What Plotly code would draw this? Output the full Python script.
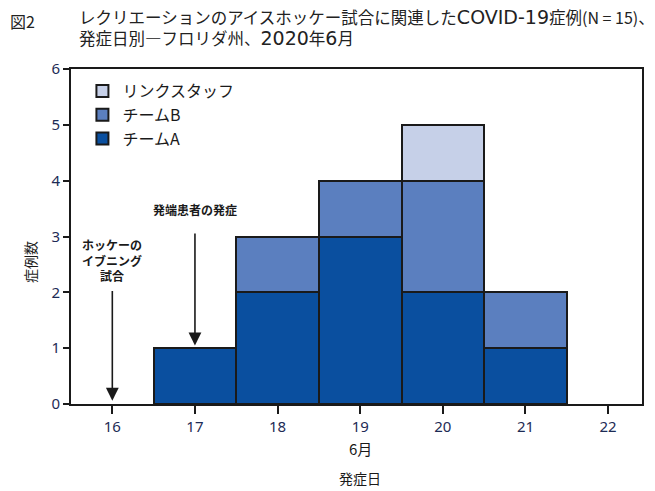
import plotly.graph_objects as go

days = [16, 17, 18, 19, 20, 21, 22]
team_a = [None, 1, 2, 3, 2, 1, None]
team_b = [None, None, 1, 1, 2, 1, None]
rink_staff = [None, None, None, None, 1, None, None]

JP = "Noto Sans CJK JP"
NAVY = "#1d2b55"
INK = "#1a1a1a"

# plot area in reference pixels
PL, PR, PT, PB = 71, 642, 69, 404
OFF = 8  # page body margin


def px(x):
    return (x - PL) / (PR - PL)


def py(y):
    return (PB - y) / (PB - PT)


def span(s, size, family="DejaVu Sans"):
    return '<span style="font-family:%s;font-size:%dpx">%s</span>' % (family, size, s)


fig = go.Figure()
fig.add_trace(go.Bar(x=days, y=team_a, name="チームA", width=1,
                     marker=dict(color="#0a4f9f", line=dict(color=INK, width=2))))
fig.add_trace(go.Bar(x=days, y=team_b, name="チームB", width=1,
                     marker=dict(color="#5b7fbf", line=dict(color=INK, width=2))))
fig.add_trace(go.Bar(x=days, y=rink_staff, name="リンクスタッフ", width=1,
                     marker=dict(color="#c6d0e8", line=dict(color=INK, width=2))))

# arrows
fig.add_annotation(x=16, y=0.06, ax=16, ay=2.05, xref="x", yref="y", axref="x", ayref="y",
                   showarrow=True, arrowhead=2, arrowsize=1.6, arrowwidth=1.6, arrowcolor=INK, text="")
fig.add_annotation(x=17, y=1.05, ax=17, ay=3.08, xref="x", yref="y", axref="x", ayref="y",
                   showarrow=True, arrowhead=2, arrowsize=1.6, arrowwidth=1.6, arrowcolor=INK, text="")
fig.add_annotation(x=16, y=2.12, text="<b>ホッケーの<br>イブニング<br>試合</b>", showarrow=False,
                   yanchor="bottom", font=dict(family=JP, size=12, color=INK))
fig.add_annotation(x=17, y=3.3, text="<b>発端患者の発症</b>", showarrow=False,
                   yanchor="bottom", font=dict(family=JP, size=12, color=INK))

# titles
title_txt = ("レクリエーションのアイスホッケー試合に関連した" + span("COVID-19", 19) + "症例"
             + span("(N = 15)", 16, JP) + "、"
             + "<br>発症日別―フロリダ州、" + span("2020", 19) + "年" + span("6", 19) + "月")
fig.add_annotation(x=px(8), y=py(21), xref="paper", yref="paper", text="図2", showarrow=False,
                   font=dict(family=JP, size=16, color="#222"), xanchor="left", yanchor="middle")
fig.add_annotation(x=px(77), y=py(27), xref="paper", yref="paper", text=title_txt,
                   showarrow=False, align="left",
                   font=dict(family=JP, size=16.5, color="#222"),
                   xanchor="left", yanchor="middle")
fig.add_annotation(x=19, y=py(448), yref="paper", text="6月", showarrow=False,
                   font=dict(family=JP, size=15, color=INK), xanchor="center", yanchor="middle")
fig.add_annotation(x=19, y=py(478), yref="paper", text="発症日", showarrow=False,
                   font=dict(family=JP, size=14, color=INK), xanchor="center", yanchor="middle")
fig.add_annotation(x=px(30), y=py(262), xref="paper", yref="paper", text="症例数", showarrow=False,
                   textangle=-90, xanchor="center", yanchor="middle",
                   font=dict(family=JP, size=14, color=INK))

W, H = 655 - OFF, 491 - OFF
fig.update_layout(
    width=W, height=H,
    margin=dict(l=PL - OFF, r=655 - PR, t=PT - OFF, b=H - (PB - OFF)),
    barmode="stack", bargap=0,
    plot_bgcolor="white", paper_bgcolor="white",
    showlegend=True,
    legend=dict(x=0.02, y=0.985, xanchor="left", yanchor="top", traceorder="reversed",
                font=dict(family=JP, size=16, color=INK), bgcolor="rgba(0,0,0,0)",
                tracegroupgap=2, itemwidth=30),
    xaxis=dict(range=[15.5, 22.41], tickvals=days, ticks="outside", ticklen=8, tickwidth=2,
               tickcolor=INK, showline=True, linecolor=INK, linewidth=2, mirror=True,
               showgrid=False, zeroline=False,
               tickfont=dict(family="Noto Sans", size=15, color=NAVY)),
    yaxis=dict(range=[0, 6], dtick=1, ticks="outside", ticklen=6, tickwidth=2,
               tickcolor=INK, showline=True, linecolor=INK, linewidth=2, mirror=True,
               showgrid=False, zeroline=False,
               tickfont=dict(family="Noto Sans", size=15, color=NAVY)),
)

fig.write_html("out.html")
